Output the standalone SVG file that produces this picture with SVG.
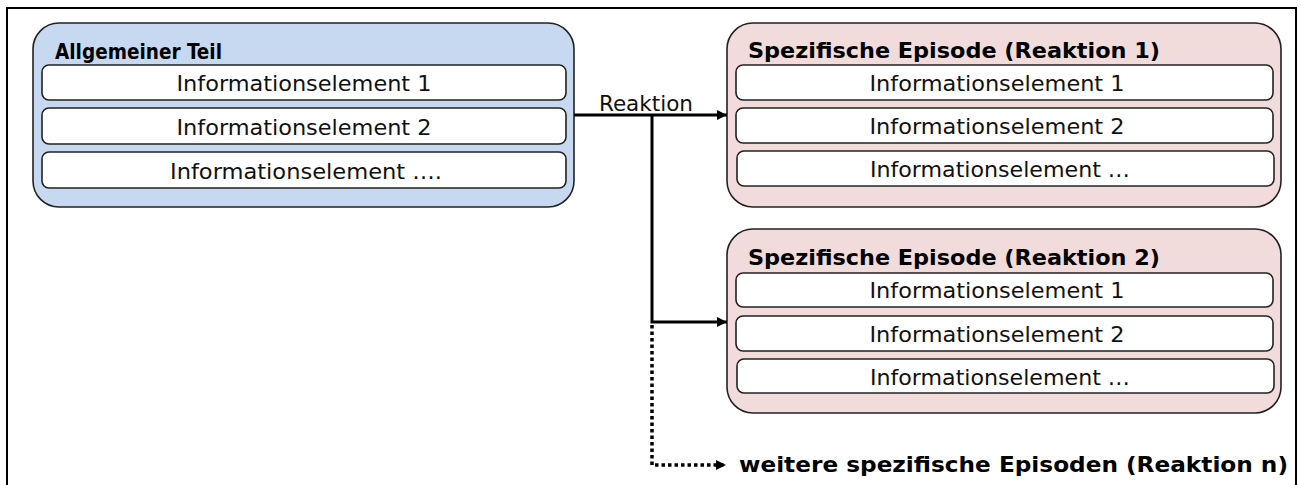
<svg xmlns="http://www.w3.org/2000/svg" width="1301" height="485" viewBox="0 0 1301 485">
<defs>
<style>
.frame{fill:#fff;stroke:#000;stroke-width:2}
.outerA{fill:#c6d9f0;stroke:#222;stroke-width:1.6}
.outerB{fill:#f2dcdb;stroke:#222;stroke-width:1.6}
.inner{fill:#fff;stroke:#222;stroke-width:1.6}
.t{font-family:"DejaVu Sans Condensed","DejaVu Sans",Verdana,sans-serif;font-size:22px;fill:#111}
.c{text-anchor:middle}
.b{font-weight:bold;font-size:22px;fill:#000}
.line{fill:none;stroke:#000;stroke-width:3}
.dot{fill:none;stroke:#000;stroke-width:3.5;stroke-dasharray:3.5 3}
</style>
<marker id="ah" viewBox="0 0 10 10" refX="10" refY="5" markerWidth="10" markerHeight="10" markerUnits="userSpaceOnUse" orient="auto">
<path d="M0,0 L10,5 L0,10 z" fill="#000"/>
</marker>
<marker id="ahs" viewBox="0 0 10 10" refX="10" refY="5" markerWidth="10" markerHeight="10" markerUnits="userSpaceOnUse" orient="auto">
<path d="M0,0 L10,5 L0,10 z" fill="#000"/>
</marker>
</defs>
<rect class="frame" x="7" y="8" width="1289" height="490"/>

<g id="allgemein">
<rect class="outerA" x="33" y="23" width="541" height="184" rx="26"/>
<text class="t b" x="55" y="59" textLength="167" lengthAdjust="spacingAndGlyphs">Allgemeiner Teil</text>
<rect class="inner" x="42" y="65" width="524" height="35" rx="7"/>
<text class="t c" x="304" y="91" textLength="255" lengthAdjust="spacingAndGlyphs">Informationselement 1</text>
<rect class="inner" x="42" y="108" width="524" height="36" rx="7"/>
<text class="t c" x="304" y="135" textLength="255" lengthAdjust="spacingAndGlyphs">Informationselement 2</text>
<rect class="inner" x="42" y="152" width="524" height="36" rx="7"/>
<text class="t c" x="306" y="179" textLength="272" lengthAdjust="spacingAndGlyphs">Informationselement ….</text>
</g>

<g id="episode1">
<rect class="outerB" x="727" y="23" width="554" height="184" rx="26"/>
<text class="t b" x="748" y="58" textLength="412" lengthAdjust="spacingAndGlyphs">Spezifische Episode (Reaktion 1)</text>
<rect class="inner" x="736" y="65" width="537" height="35" rx="7"/>
<text class="t c" x="997" y="91" textLength="255" lengthAdjust="spacingAndGlyphs">Informationselement 1</text>
<rect class="inner" x="736" y="108" width="537" height="35" rx="7"/>
<text class="t c" x="997" y="134" textLength="255" lengthAdjust="spacingAndGlyphs">Informationselement 2</text>
<rect class="inner" x="737" y="151" width="537" height="35" rx="7"/>
<text class="t c" x="1000" y="177" textLength="260" lengthAdjust="spacingAndGlyphs">Informationselement …</text>
</g>

<g id="episode2">
<rect class="outerB" x="727" y="229" width="554" height="184" rx="26"/>
<text class="t b" x="748" y="265" textLength="412" lengthAdjust="spacingAndGlyphs">Spezifische Episode (Reaktion 2)</text>
<rect class="inner" x="736" y="273" width="537" height="34" rx="7"/>
<text class="t c" x="997" y="298" textLength="255" lengthAdjust="spacingAndGlyphs">Informationselement 1</text>
<rect class="inner" x="736" y="316" width="537" height="35" rx="7"/>
<text class="t c" x="997" y="342" textLength="255" lengthAdjust="spacingAndGlyphs">Informationselement 2</text>
<rect class="inner" x="737" y="359" width="537" height="34" rx="7"/>
<text class="t c" x="1000" y="385" textLength="260" lengthAdjust="spacingAndGlyphs">Informationselement …</text>
</g>

<g id="weitere">
<text class="t b" x="739" y="472" textLength="549" lengthAdjust="spacingAndGlyphs">weitere spezifische Episoden (Reaktion n)</text>
</g>

<g id="connectors">
<path class="line" d="M574,115 H727" marker-end="url(#ah)"/>
<path class="line" d="M652,115 V322 H727" marker-end="url(#ah)"/>
<path class="dot" d="M652,325 V465 H726" marker-end="url(#ahs)"/>
<text class="t" x="599" y="111" textLength="94" lengthAdjust="spacingAndGlyphs">Reaktion</text>
</g>
</svg>
